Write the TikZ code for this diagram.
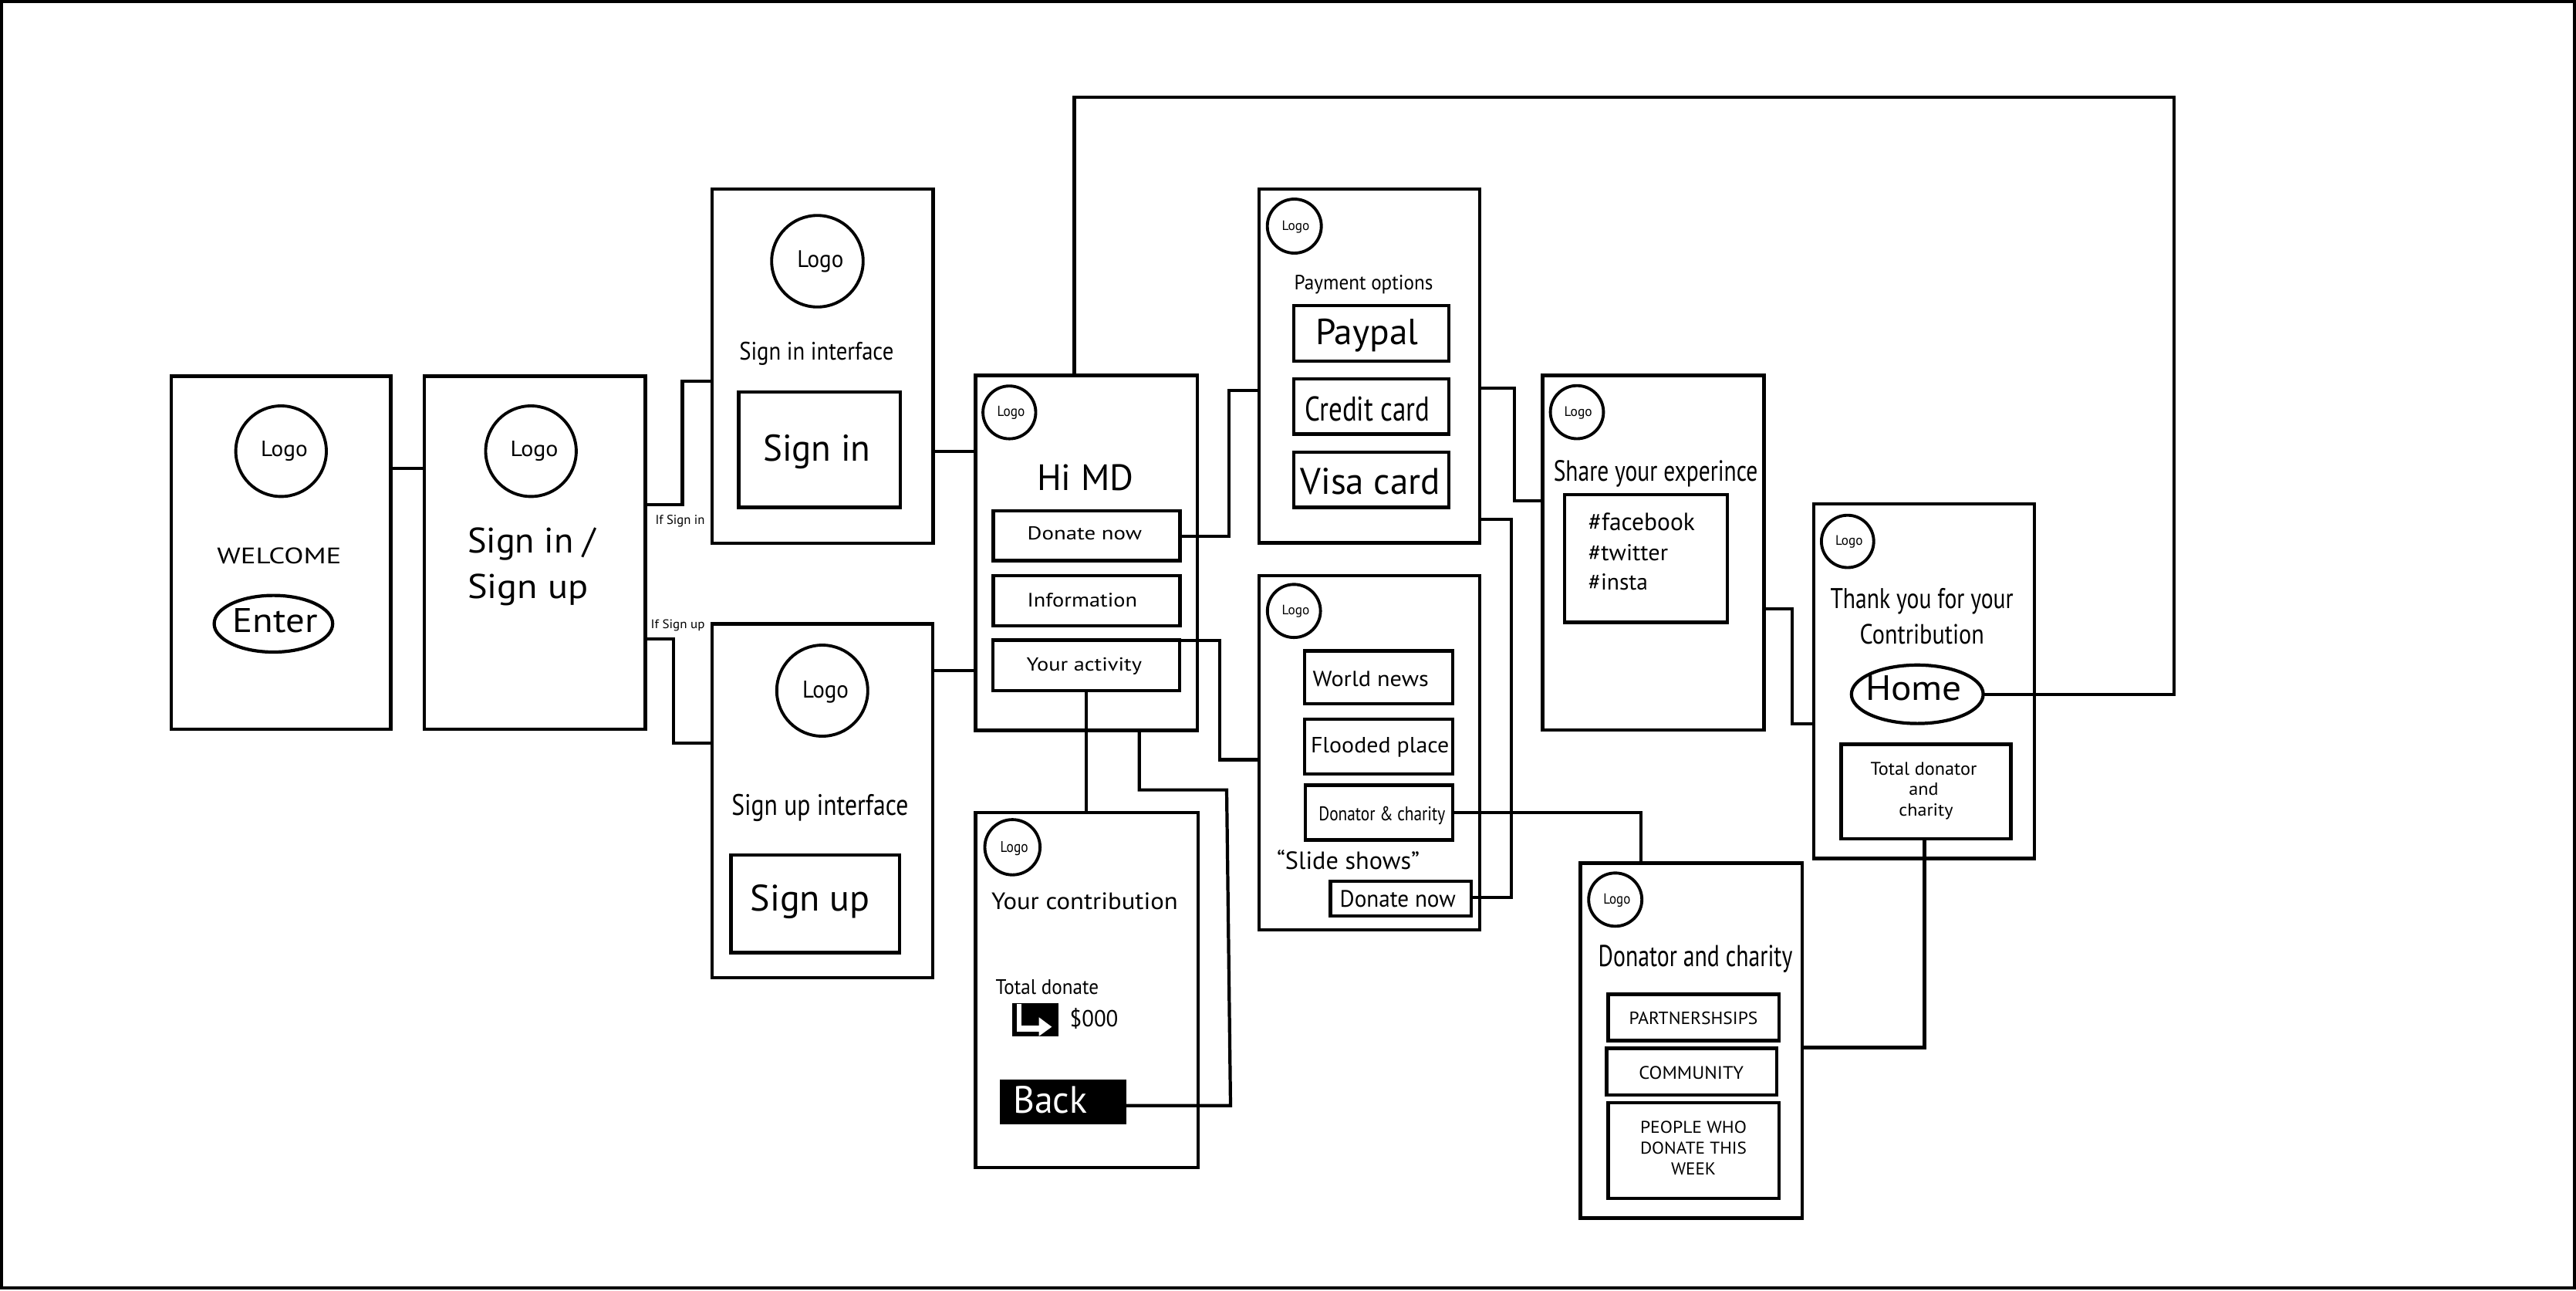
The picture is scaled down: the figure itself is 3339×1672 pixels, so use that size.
\documentclass[tikz,border=0pt]{standalone}
\usepackage{fontspec}
\setmainfont{PT Sans}
\usetikzlibrary{shapes.geometric}
\newlength\un \setlength\un{0.01cm}
\newcounter{tc}
\newcommand\T[6][black]{\stepcounter{tc}\node[txt,text=#1] (t\arabic{tc}) at (#2,#3) {\resizebox{#4\un}{#5\un}{#6}};}
\newcommand\B[6][scr]{\node[#1,minimum width={(#5-#3)*0.01cm},minimum height={(#6-#4)*0.01cm}] (#2) at ({(#3+#5)/2},{(#4+#6)/2}) {};}
\newcommand\C[4]{\node[logo,minimum size={2*#4*0.01cm}] (#1) at (#2,#3) {};}
\begin{document}
\begin{tikzpicture}[x=0.01cm,y=-0.01cm,
 scr/.style={draw,line width=1.25pt,inner sep=0,outer sep=0,rectangle},
 frm/.style={draw,line width=0.9pt,inner sep=0,outer sep=0,rectangle},
 blk/.style={fill=black,draw=none,inner sep=0,outer sep=0,rectangle},
 logo/.style={draw,circle,line width=1.1pt,inner sep=0,outer sep=0},
 oval/.style={draw,ellipse,line width=1.2pt,inner sep=0,outer sep=0},
 txt/.style={inner sep=0,outer sep=0,anchor=base west},
 wire/.style={line width=1.2pt}]
\useasboundingbox (0,0) rectangle (3339,1672);
\B[frm]{frame}{2}{2}{3337}{1669}
% screens
\B{welcome}{221.8}{487.3}{506.3}{945}
\B{signsel}{550}{487.3}{836.5}{945}
\B{sin}{922.7}{245}{1209.3}{704}
\B{sinbtn}{957.3}{507.7}{1166.7}{657.3}
\B{sup}{922.7}{808.3}{1209}{1266.7}
\B{supbtn}{947.3}{1107.7}{1166}{1234.3}
\B{hi}{1264.5}{486.5}{1551.7}{946.5}
\B{donbtn}{1287.3}{661.8}{1529.3}{726.4}
\B{infbtn}{1287.3}{746}{1529.3}{811}
\B{actbtn}{1286.7}{829.6}{1529}{895}
\B{contrib}{1264.5}{1052.7}{1552.7}{1512.7}
\B{pay}{1631.7}{245}{1917.7}{703.3}
\B{paypal}{1676.7}{395.7}{1877.7}{467.7}
\B{credit}{1676.7}{491}{1877.7}{562.3}
\B{visa}{1676.7}{586}{1877.7}{657.3}
\B{slide}{1631.7}{746}{1917.7}{1205}
\B{world}{1691}{843.3}{1882.7}{911.7}
\B{flood}{1691}{931.7}{1882.7}{1002.7}
\B{dcbtn}{1691.7}{1017.3}{1882.7}{1088.3}
\B{don2}{1724.3}{1141.7}{1906.7}{1186.7}
\B{share}{1999.5}{486.6}{2286.6}{946}
\B{hash}{2027.7}{640.8}{2238.9}{806.6}
\B{thank}{2350.8}{653.2}{2637}{1112.6}
\B{totbox}{2386.3}{964.6}{2606.6}{1086.9}
\B{donator}{2048.3}{1118.3}{2336}{1578.3}
\B{part}{2084.3}{1288.3}{2305.7}{1348.3}
\B{comm}{2082.3}{1358.3}{2302.7}{1419}
\B{people}{2084.3}{1429}{2305.7}{1552.7}
\B[blk]{back}{1296}{1399.3}{1460}{1457.3}
\B[blk]{icon}{1312.3}{1300}{1371.7}{1343.3}
\fill[white] (1318.3,1300.7) rectangle (1324,1336.7);
\fill[white] (1318.3,1329.3) rectangle (1348.3,1336.7);
\fill[white] (1346.7,1318.3) -- (1363.3,1330.7) -- (1346.7,1342.7) -- cycle;
% logos
\C{lg1}{364.3}{584.7}{58.7}
\C{lg2}{688.2}{584.7}{58.7}
\C{lg3}{1059.5}{338.5}{59.3}
\C{lg4}{1065.8}{895}{59}
\C{lg5}{1308.3}{534.4}{34.2}
\C{lg6}{1312.3}{1097.9}{35.8}
\C{lg7}{1677.7}{293}{35}
\C{lg8}{1677.2}{791.7}{34.4}
\C{lg9}{2044}{534.1}{34.4}
\C{lg10}{2394.8}{701.6}{33.9}
\C{lg11}{2093.7}{1165.8}{34.5}
\node[oval,minimum width=153.6\un,minimum height=73.4\un] (enter) at (354.4,808.3) {};
\node[oval,minimum width=170.8\un,minimum height=75.8\un] (home) at (2485.2,899.7) {};
% texts
\T{338.2}{591.7}{60.5}{20}{Logo}
\T{281.4}{730.7}{161}{20.7}{WELCOME}
\T{301.8}{819.3}{110}{31}{Enter}
\T{661.5}{591.7}{62}{20}{Logo}
\T{606.2}{716.7}{165.8}{32.7}{Sign in /}
\T{606.2}{775}{156}{31.7}{Sign up}
\T{849.5}{679.5}{64}{12}{If Sign in}
\T{843.7}{814}{69.8}{11.5}{If Sign up}
\T{1033.3}{346.7}{60}{21.7}{Logo}
\T{958.3}{466.7}{200}{23.3}{Sign in interface}
\T{989.3}{597.7}{139}{34.3}{Sign in}
\T{1040}{904}{60}{22}{Logo}
\T{948.3}{1056.7}{229}{27.3}{Sign up interface}
\T{972.7}{1180.7}{155}{34}{Sign up}
\T{1292.7}{539.6}{35.7}{13.2}{Logo}
\T{1344}{635}{125.3}{33.6}{Hi MD}
\T{1331.7}{699.6}{148.3}{17.1}{Donate now}
\T{1331.7}{786}{142.3}{17.9}{Information}
\T{1330.7}{869.3}{149.3}{17.3}{Your activity}
\T{1296.7}{1104}{36}{14}{Logo}
\T{1285}{1178.3}{241.7}{21.7}{Your contribution}
\T{1290.7}{1288.3}{133.3}{19}{Total donate}
\T{1386.7}{1330}{62.7}{24}{\$000}
\T[white]{1313.3}{1442.7}{96}{35}{Back}
\T{1661.7}{298.3}{35.7}{12.3}{Logo}
\T{1677.7}{375}{179.7}{19}{Payment options}
\T{1705}{446}{133.3}{33.3}{Paypal}
\T{1691}{545}{162.3}{31.7}{Credit card}
\T{1685.7}{640}{181}{34}{Visa card}
\T{1661.7}{796.7}{35.7}{12.3}{Logo}
\T{1701.7}{889}{150}{19.7}{World news}
\T{1699}{975}{179.3}{20}{Flooded place}
\T{1709.3}{1063.3}{164}{18.3}{Donator \& charity}
\T{1655}{1126.7}{185}{25}{“Slide shows”}
\T{1736.7}{1175}{150}{21.7}{Donate now}
\T{2027.7}{539.7}{36}{12.5}{Logo}
\T{2013.8}{623.4}{264.6}{27}{Share your experince}
\T{2058.9}{687.7}{138}{22.8}{\#facebook}
\T{2058.9}{726.2}{103.2}{21}{\#twitter}
\T{2058.9}{764.4}{77.2}{21}{\#insta}
\T{2379}{706.3}{35.5}{12.5}{Logo}
\T{2372.5}{788.4}{237.2}{26.1}{Thank you for your}
\T{2410.6}{834.8}{161.3}{25.7}{Contribution}
\T{2418}{907.4}{124.9}{31.9}{Home}
\T{2424.5}{1004}{137.9}{16.6}{Total donator}
\T{2474.4}{1030.5}{38.2}{16}{and}
\T{2461.4}{1057.9}{70.2}{16}{charity}
\T{2078.3}{1171.7}{35}{13.3}{Logo}
\T{2071.7}{1252.7}{251.7}{27.7}{Donator and charity}
\T{2111.7}{1327.3}{166.7}{16.3}{PARTNERSHSIPS}
\T{2124.3}{1398.3}{135.7}{16.7}{COMMUNITY}
\T{2126}{1468.3}{138}{15.7}{PEOPLE WHO}
\T{2126}{1495.7}{138}{15.7}{DONATE THIS}
\T{2166}{1522.7}{58}{15.7}{WEEK}
% connectors
\draw[wire] (welcome.east |- 0,606.7) -- (signsel.west |- 0,606.7);
\draw[wire] (signsel.east |- 0,654.3) -| (884.4,494) -- (sin.west |- 0,494);
\draw[wire] (signsel.east |- 0,828) -| (873.3,962.7) -- (sup.west |- 0,962.7);
\draw[wire] (sin.east |- 0,585) -- (hi.west |- 0,585);
\draw[wire] (sup.east |- 0,869) -- (hi.west |- 0,869);
\draw[wire] (donbtn.east |- 0,695) -| (1593.3,506) -- (pay.west |- 0,506);
\draw[wire] (actbtn.north east) -| (1581,984.5) -- (slide.west |- 0,984.5);
\draw[wire] (1408.3,0 |- actbtn.south) -- (1408.3,0 |- contrib.north);
\draw[wire] (1476.7,0 |- hi.south) |- (1590,1023.6) -- (1595,1432.7) -- (back.east |- 0,1432.7);
\draw[wire] (pay.east |- 0,502.7) -| (1963.3,649) -- (share.west |- 0,649);
\draw[wire] (pay.east |- 0,672.7) -| (1959.3,1163.3) -- (don2.east |- 0,1163.3);
\draw[wire] (dcbtn.east |- 0,1053) -| (2127,0 |- donator.north);
\draw[wire] (share.east |- 0,789.2) -| (2322.6,937.7) -- (thank.west |- 0,937.7);
\draw[wire] (home.east) -| (2818,126) -| (1392.5,0 |- hi.north);
\draw[wire] (2494.5,0 |- totbox.south) |- (donator.east |- 0,1357.5);
\end{tikzpicture}
\end{document}
